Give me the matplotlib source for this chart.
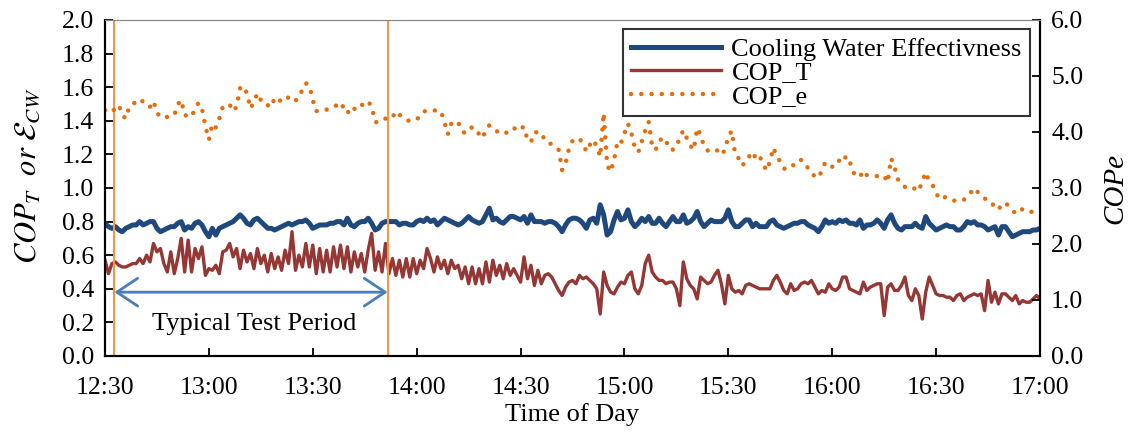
import numpy as np
import matplotlib as mpl
mpl.use('Agg')
import matplotlib.pyplot as plt

### data (one sample per minute from 12:30) ###
minutes = np.arange(0, 271)
time_ticks = [0, 30, 60, 90, 120, 150, 180, 210, 240, 270]
time_labels = ['12:30', '13:00', '13:30', '14:00', '14:30', '15:00', '15:30', '16:00', '16:30', '17:00']

cw_eff = [0.79,0.77,0.76,0.77,0.75,0.74,0.76,0.77,0.78,0.78,
          0.80,0.78,0.79,0.80,0.80,0.76,0.74,0.75,0.76,0.77,
          0.77,0.79,0.80,0.75,0.77,0.76,0.79,0.80,0.78,0.74,
          0.71,0.76,0.72,0.76,0.77,0.78,0.79,0.80,0.82,0.84,
          0.82,0.79,0.78,0.81,0.82,0.80,0.78,0.76,0.76,0.75,
          0.76,0.77,0.78,0.79,0.78,0.79,0.80,0.80,0.81,0.79,
          0.76,0.77,0.78,0.78,0.78,0.79,0.79,0.80,0.80,0.78,
          0.82,0.78,0.77,0.79,0.80,0.80,0.82,0.79,0.75,0.76,
          0.79,0.80,0.80,0.80,0.80,0.78,0.79,0.79,0.78,0.78,
          0.80,0.81,0.80,0.82,0.80,0.81,0.78,0.80,0.82,0.81,
          0.80,0.79,0.78,0.79,0.81,0.83,0.81,0.80,0.79,0.80,
          0.84,0.88,0.81,0.82,0.80,0.79,0.81,0.83,0.83,0.82,
          0.81,0.83,0.79,0.84,0.80,0.80,0.80,0.79,0.80,0.80,
          0.79,0.77,0.74,0.78,0.81,0.82,0.82,0.81,0.79,0.76,
          0.81,0.82,0.79,0.90,0.84,0.72,0.74,0.81,0.86,0.81,
          0.82,0.87,0.80,0.77,0.79,0.82,0.80,0.83,0.79,0.79,
          0.82,0.79,0.77,0.80,0.83,0.80,0.80,0.84,0.79,0.80,
          0.82,0.86,0.80,0.77,0.79,0.81,0.80,0.80,0.80,0.82,
          0.87,0.80,0.77,0.77,0.79,0.81,0.81,0.77,0.79,0.77,
          0.77,0.77,0.80,0.81,0.78,0.77,0.76,0.77,0.78,0.79,
          0.79,0.80,0.80,0.78,0.77,0.76,0.74,0.77,0.81,0.79,
          0.80,0.79,0.81,0.80,0.81,0.79,0.79,0.78,0.81,0.76,
          0.78,0.78,0.79,0.81,0.79,0.76,0.81,0.84,0.79,0.76,
          0.75,0.77,0.77,0.77,0.79,0.77,0.76,0.83,0.79,0.77,
          0.75,0.76,0.77,0.78,0.77,0.77,0.75,0.75,0.77,0.80,
          0.79,0.80,0.78,0.78,0.77,0.75,0.76,0.77,0.72,0.77,
          0.77,0.74,0.71,0.72,0.73,0.74,0.74,0.74,0.75,0.75,
          0.76]

cop_t = [0.57,0.49,0.55,0.56,0.54,0.53,0.53,0.54,0.55,0.55,
         0.58,0.55,0.60,0.56,0.67,0.62,0.64,0.55,0.50,0.62,
         0.49,0.58,0.70,0.50,0.69,0.50,0.64,0.58,0.65,0.48,
         0.52,0.51,0.54,0.49,0.62,0.63,0.67,0.59,0.64,0.52,
         0.63,0.56,0.61,0.52,0.64,0.55,0.60,0.50,0.61,0.52,
         0.59,0.51,0.63,0.55,0.74,0.51,0.60,0.53,0.67,0.53,
         0.66,0.49,0.64,0.50,0.63,0.50,0.65,0.53,0.66,0.52,
         0.65,0.50,0.62,0.53,0.61,0.50,0.63,0.73,0.51,0.62,
         0.50,0.67,0.49,0.58,0.48,0.57,0.47,0.58,0.47,0.58,
         0.49,0.57,0.52,0.64,0.58,0.50,0.59,0.52,0.57,0.49,
         0.57,0.52,0.54,0.46,0.53,0.43,0.53,0.43,0.52,0.43,
         0.56,0.44,0.57,0.48,0.54,0.46,0.55,0.48,0.52,0.48,
         0.44,0.59,0.46,0.54,0.42,0.51,0.43,0.48,0.49,0.47,
         0.43,0.39,0.36,0.41,0.44,0.45,0.43,0.48,0.46,0.47,
         0.45,0.43,0.40,0.25,0.50,0.42,0.38,0.37,0.41,0.44,
         0.43,0.48,0.50,0.40,0.37,0.42,0.55,0.60,0.50,0.47,
         0.45,0.45,0.43,0.44,0.44,0.40,0.30,0.56,0.46,0.42,
         0.40,0.34,0.47,0.45,0.43,0.44,0.48,0.51,0.43,0.31,
         0.48,0.40,0.38,0.39,0.37,0.42,0.43,0.42,0.41,0.40,
         0.40,0.40,0.40,0.45,0.48,0.44,0.39,0.37,0.43,0.39,
         0.40,0.43,0.44,0.43,0.45,0.41,0.37,0.39,0.38,0.43,
         0.40,0.39,0.41,0.47,0.47,0.40,0.39,0.38,0.37,0.44,
         0.39,0.41,0.42,0.43,0.43,0.24,0.41,0.43,0.39,0.39,
         0.42,0.47,0.36,0.33,0.40,0.36,0.22,0.38,0.47,0.42,
         0.37,0.36,0.36,0.35,0.35,0.33,0.36,0.37,0.33,0.35,
         0.36,0.37,0.36,0.37,0.27,0.45,0.32,0.38,0.31,0.37,
         0.37,0.35,0.33,0.36,0.31,0.33,0.32,0.32,0.34,0.36,
         0.34]

cop_e = [4.39,4.35,4.36,4.42,4.48,4.30,4.24,4.45,4.49,4.55,
         4.59,4.54,4.53,4.45,4.55,4.35,4.26,4.26,4.27,4.28,
         4.30,4.49,4.57,4.30,4.29,4.27,4.42,4.52,4.42,4.10,
         3.86,4.15,4.08,4.24,4.45,4.49,4.49,4.37,4.45,4.78,
         4.82,4.69,4.42,4.54,4.69,4.57,4.49,4.47,4.59,4.53,
         4.49,4.62,4.63,4.61,4.58,4.54,4.69,4.73,4.87,4.83,
         4.57,4.37,4.40,4.40,4.40,4.41,4.45,4.48,4.53,4.42,
         4.33,4.45,4.41,4.50,4.49,4.47,4.54,4.46,4.18,4.17,
         4.21,4.24,4.22,4.26,4.37,4.31,4.26,4.21,4.20,4.20,
         4.22,4.29,4.37,4.37,4.39,4.39,4.37,4.37,4.18,3.96,
         4.15,4.20,4.17,4.02,3.98,4.00,4.09,4.00,3.97,3.89,
         4.04,4.12,4.08,4.02,3.98,3.96,3.99,4.04,4.08,4.02,
         4.07,4.09,3.86,3.82,3.99,4.00,3.99,3.85,3.83,3.77,
         3.74,3.68,3.32,3.44,3.71,3.84,3.89,3.88,3.80,3.65,
         3.77,3.86,3.74,3.56,4.34,3.41,3.29,3.50,3.83,3.80,
         3.98,4.15,3.98,3.72,3.64,3.83,4.03,4.18,3.74,3.68,
         3.83,3.90,3.80,3.81,3.68,3.74,3.90,4.03,3.89,3.76,
         3.68,4.07,3.95,3.74,3.67,3.67,3.70,3.66,3.59,3.68,
         3.92,4.02,3.59,3.53,3.40,3.47,3.57,3.49,3.62,3.57,
         3.44,3.31,3.47,3.72,3.56,3.47,3.35,3.33,3.37,3.42,
         3.50,3.50,3.47,3.35,3.26,3.21,3.18,3.31,3.46,3.42,
         3.38,3.38,3.49,3.45,3.57,3.48,3.29,3.20,3.20,3.31,
         3.23,3.23,3.23,3.21,3.22,3.22,3.10,3.53,3.37,3.15,
         3.06,3.02,2.99,2.97,3.00,2.95,3.12,3.28,3.12,3.05,
         2.91,2.80,2.83,2.84,2.80,2.78,2.76,2.78,2.79,2.86,
         2.92,3.00,2.93,2.86,2.81,2.80,2.72,2.68,2.61,2.72,
         2.73,2.68,2.60,2.55,2.55,2.63,2.60,2.58,2.57,2.60,
         2.62]

test_start = 2.7     # minutes after 12:30
test_end = 81.6
arrow_y = 0.38

### plot ###
plt.rcParams['font.family'] = ['Liberation Serif', 'DejaVu Serif']
plt.rcParams['mathtext.fontset'] = 'stix'
fs = 19

fig = plt.figure(figsize=(11.34, 4.34), dpi=100)
ax = fig.add_axes([105/1134, 1 - 356/434, 935/1134, 336/434])
ax2 = ax.twinx()

l1, = ax.plot(minutes, cw_eff, color='#1F497D', lw=3.6, label='Cooling Water Effectivness')
l2, = ax.plot(minutes, cop_t, color='#953735', lw=2.4, label='COP_T')
l3, = ax2.plot(minutes, cop_e, color='#E46C0A', lw=3.2, linestyle=(0, (0.01, 2.3)),
               dash_capstyle='round', label='COP_e')

ax.axvline(test_start, color='#F79646', lw=1.5)
ax.axvline(test_end, color='#F79646', lw=1.5)
ax.annotate('', xy=(test_start, arrow_y), xytext=(test_end, arrow_y),
            arrowprops=dict(arrowstyle='<->,head_length=0.75,head_width=0.5',
                            color='#4A7EBB', lw=2, mutation_scale=20,
                            shrinkA=0, shrinkB=0))
ax.text((test_start + test_end) / 2 + 1.0, 0.19, 'Typical Test Period', fontsize=fs,
        ha='center', va='center')

ax.set_xlim(0, 270)
ax.set_ylim(0, 2.0)
ax2.set_ylim(0, 6.0)
ax.set_xticks(time_ticks)
ax.set_xticklabels(time_labels)
ax.set_yticks(np.arange(0, 2.01, 0.2))
ax.set_yticklabels(['%.1f' % v for v in np.arange(0, 2.01, 0.2)])
ax2.set_yticks(np.arange(0, 6.01, 1.0))
ax2.set_yticklabels(['%.1f' % v for v in np.arange(0, 6.01, 1.0)])
ax.tick_params(axis='both', direction='in', length=6, width=1.3, labelsize=fs - 0.5, pad=8)
ax2.tick_params(axis='y', direction='in', length=6, width=1.3, labelsize=fs - 0.5, pad=8)
ax.tick_params(axis='x', pad=15)

for s in ['left', 'right', 'bottom']:
    ax.spines[s].set_linewidth(1.5)
    ax2.spines[s].set_linewidth(1.5)
ax.spines['top'].set_linewidth(0.8)
ax2.spines['top'].set_linewidth(0.8)
ax.spines['top'].set_color('#888888')
ax2.spines['top'].set_color('#888888')

ax.set_xlabel('Time of Day', fontsize=fs, labelpad=3)
ax.set_ylabel(r'$COP_T\ \ or\ \mathcal{E}_{CW}$', fontsize=fs + 3)
ax.yaxis.set_label_coords(-0.066, 0.535)
ax2.set_ylabel('COPe', fontsize=fs + 2, fontstyle='italic', labelpad=14)

leg = ax2.legend([l1, l2, l3], ['Cooling Water Effectivness', 'COP_T', 'COP_e'],
                 loc='upper right', bbox_to_anchor=(0.989, 0.972), fontsize=fs,
                 frameon=True, fancybox=False, handlelength=3.4, labelspacing=0.0,
                 borderpad=0.3, handletextpad=0.4, borderaxespad=0)
leg.get_frame().set_edgecolor('black')
leg.get_frame().set_linewidth(1.5)

plt.savefig('out.png', dpi=100)
